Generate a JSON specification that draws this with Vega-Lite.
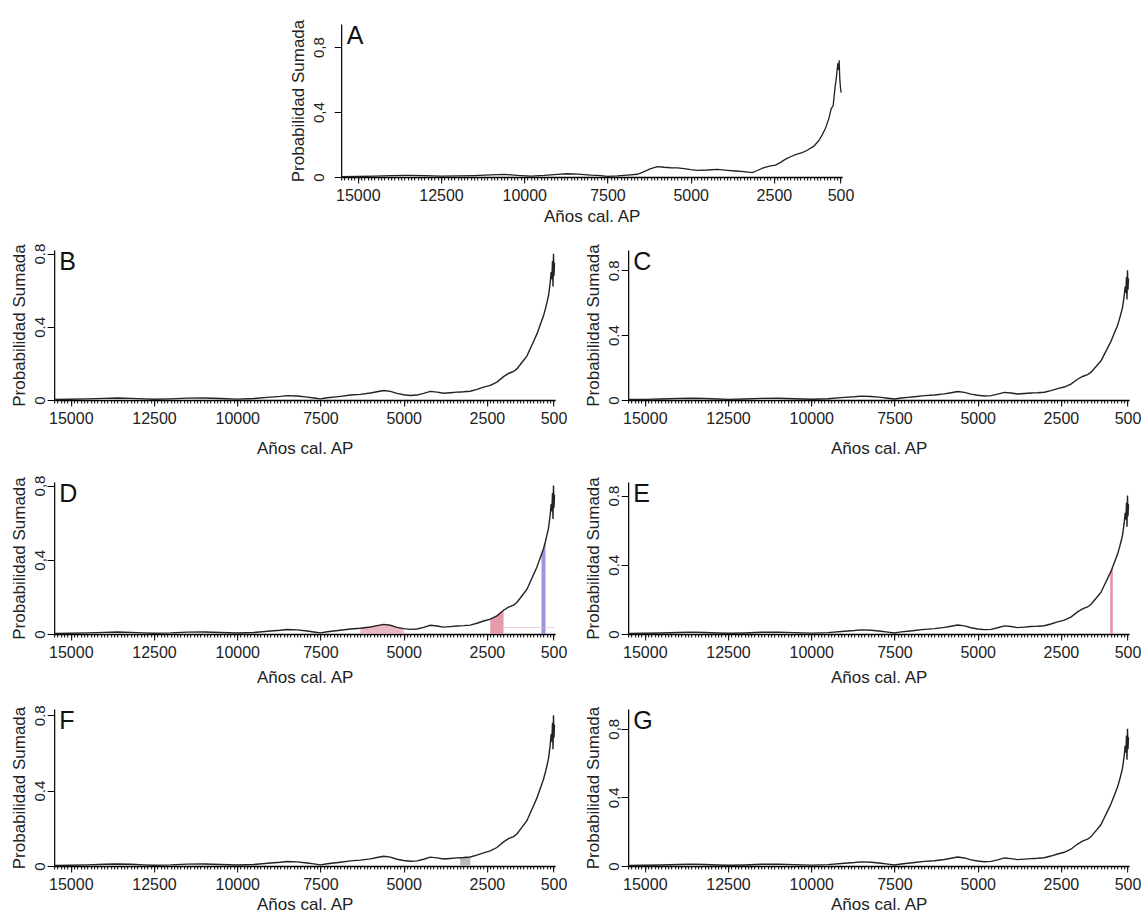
{
  "$schema": "https://vega.github.io/schema/vega-lite/v6.json",
  "background": "white",
  "padding": {"left": 10, "top": 19, "right": 0, "bottom": 0},
  "center": true,
  "spacing": 18,
  "datasets": {
    "base": [
      {"year": 15500, "p": 0.003}, {"year": 15000, "p": 0.004}, {"year": 14500, "p": 0.006}, {"year": 14000, "p": 0.009},
      {"year": 13600, "p": 0.011}, {"year": 13200, "p": 0.009}, {"year": 12800, "p": 0.006}, {"year": 12500, "p": 0.004},
      {"year": 12000, "p": 0.006}, {"year": 11500, "p": 0.01}, {"year": 11000, "p": 0.011}, {"year": 10500, "p": 0.008},
      {"year": 10000, "p": 0.005}, {"year": 9500, "p": 0.008}, {"year": 9000, "p": 0.016}, {"year": 8700, "p": 0.02},
      {"year": 8500, "p": 0.024}, {"year": 8200, "p": 0.022}, {"year": 7900, "p": 0.016}, {"year": 7700, "p": 0.011},
      {"year": 7500, "p": 0.006}, {"year": 7300, "p": 0.012}, {"year": 7100, "p": 0.016}, {"year": 6900, "p": 0.02},
      {"year": 6600, "p": 0.027}, {"year": 6300, "p": 0.031}, {"year": 6000, "p": 0.038}, {"year": 5800, "p": 0.045},
      {"year": 5600, "p": 0.052}, {"year": 5400, "p": 0.047}, {"year": 5200, "p": 0.036}, {"year": 5000, "p": 0.029},
      {"year": 4800, "p": 0.025}, {"year": 4600, "p": 0.027}, {"year": 4400, "p": 0.036}, {"year": 4200, "p": 0.047},
      {"year": 4000, "p": 0.043}, {"year": 3800, "p": 0.037}, {"year": 3600, "p": 0.04}, {"year": 3400, "p": 0.043},
      {"year": 3300, "p": 0.044}, {"year": 3200, "p": 0.045}, {"year": 3000, "p": 0.048}, {"year": 2800, "p": 0.058},
      {"year": 2600, "p": 0.07}, {"year": 2400, "p": 0.08}, {"year": 2200, "p": 0.098}, {"year": 2000, "p": 0.128},
      {"year": 1850, "p": 0.145}, {"year": 1700, "p": 0.156}, {"year": 1600, "p": 0.17}, {"year": 1450, "p": 0.205},
      {"year": 1300, "p": 0.24}, {"year": 1200, "p": 0.28}, {"year": 1100, "p": 0.32}, {"year": 1020, "p": 0.352},
      {"year": 1000, "p": 0.36}, {"year": 940, "p": 0.39},
      {"year": 900, "p": 0.41}, {"year": 860, "p": 0.43}, {"year": 800, "p": 0.46}, {"year": 740, "p": 0.5}, {"year": 700, "p": 0.53}, {"year": 650, "p": 0.57},
      {"year": 600, "p": 0.64}, {"year": 570, "p": 0.7}, {"year": 550, "p": 0.66}, {"year": 530, "p": 0.76},
      {"year": 515, "p": 0.62}, {"year": 500, "p": 0.8}, {"year": 485, "p": 0.68}, {"year": 470, "p": 0.75}
    ],
    "a": [
      {"year": 15500, "p": 0.002}, {"year": 15000, "p": 0.003}, {"year": 14500, "p": 0.005}, {"year": 14000, "p": 0.009},
      {"year": 13500, "p": 0.01}, {"year": 13000, "p": 0.009}, {"year": 12500, "p": 0.006}, {"year": 12000, "p": 0.007},
      {"year": 11500, "p": 0.009}, {"year": 11000, "p": 0.013}, {"year": 10600, "p": 0.016}, {"year": 10200, "p": 0.01},
      {"year": 9800, "p": 0.006}, {"year": 9400, "p": 0.01}, {"year": 9000, "p": 0.016}, {"year": 8700, "p": 0.02},
      {"year": 8400, "p": 0.018}, {"year": 8000, "p": 0.012}, {"year": 7700, "p": 0.009}, {"year": 7500, "p": 0.004},
      {"year": 7200, "p": 0.007}, {"year": 6900, "p": 0.012}, {"year": 6600, "p": 0.017}, {"year": 6400, "p": 0.033},
      {"year": 6200, "p": 0.051}, {"year": 6000, "p": 0.064}, {"year": 5800, "p": 0.06}, {"year": 5600, "p": 0.057},
      {"year": 5400, "p": 0.056}, {"year": 5200, "p": 0.051}, {"year": 5000, "p": 0.045}, {"year": 4800, "p": 0.041},
      {"year": 4500, "p": 0.043}, {"year": 4200, "p": 0.047}, {"year": 3900, "p": 0.041}, {"year": 3650, "p": 0.037},
      {"year": 3400, "p": 0.033}, {"year": 3150, "p": 0.027}, {"year": 3000, "p": 0.04}, {"year": 2800, "p": 0.058},
      {"year": 2600, "p": 0.068}, {"year": 2450, "p": 0.073}, {"year": 2300, "p": 0.09}, {"year": 2150, "p": 0.11},
      {"year": 2000, "p": 0.125}, {"year": 1830, "p": 0.14}, {"year": 1650, "p": 0.15}, {"year": 1500, "p": 0.165},
      {"year": 1300, "p": 0.19}, {"year": 1150, "p": 0.225}, {"year": 1050, "p": 0.26}, {"year": 950, "p": 0.3},
      {"year": 850, "p": 0.36}, {"year": 780, "p": 0.42}, {"year": 720, "p": 0.44}, {"year": 670, "p": 0.54},
      {"year": 620, "p": 0.62}, {"year": 580, "p": 0.7}, {"year": 560, "p": 0.66}, {"year": 540, "p": 0.72},
      {"year": 520, "p": 0.6}, {"year": 500, "p": 0.55}, {"year": 480, "p": 0.52}
    ],
    "hline": [{"from": 2000, "to": 470, "p": 0.035}]
  },
  "config": {
    "view": {"stroke": null},
    "font": "Liberation Sans",
    "axis": {"grid": false, "domainColor": "black", "tickColor": "black", "labelColor": "#222", "titleColor": "#222", "titleFontWeight": "normal", "labelFont": "Liberation Sans", "titleFont": "Liberation Sans"},
    "axisX": {"tickSize": 6, "labelPadding": 4.5, "domainWidth": 1.5, "labelFontSize": 16, "titleFontSize": 17, "labelFlush": false, "labelOverlap": false, "labelBound": false},
    "axisY": {"tickSize": 7, "labelAngle": 270, "labelAlign": "center", "labelBaseline": "alphabetic", "labelPadding": 3, "titlePadding": 4, "labelFontSize": 15, "titleFontSize": 17, "domainWidth": 1.2, "labelOverlap": false}
  },
  "vconcat": [
    {
      "width": 501, "height": 153,
      "layer": [
        {"data": {"name": "a"}, "mark": {"type": "line", "color": "#222", "strokeWidth": 1.3},
         "encoding": {
           "x": {"field": "year", "type": "quantitative", "scale": {"domain": [15500, 450], "nice": false, "zero": false},
                 "axis": {"orient": "bottom", "values": [15000, 12500, 10000, 7500, 5000, 2500, 500], "format": "d", "title": "Años cal. AP", "titlePadding": 5}},
           "y": {"field": "p", "type": "quantitative", "scale": {"domain": [0, 0.943], "nice": false},
                 "axis": {"values": [0, 0.4, 0.8], "labelExpr": "replace(format(datum.value, '.1~f'), '.', ',')", "labelPadding": 11, "titlePadding": 3.4, "title": "Probabilidad Sumada"}}}},
        {"data": {"values": [{"t": "A"}]}, "mark": {"type": "text", "fontSize": 25, "align": "left", "baseline": "top", "color": "#111"},
         "encoding": {"text": {"field": "t"},
           "x": {"datum": 15330, "type": "quantitative", "axis": {"orient": "bottom", "tickCount": 150, "tickSize": 3, "labels": false, "domain": false, "title": null}},
           "y": {"datum": 0.943, "type": "quantitative"}}}
      ],
      "resolve": {"axis": {"x": "independent"}}
    },
    {
      "hconcat": [
        {
          "width": 501, "height": 150,
          "layer": [
            {"data": {"name": "base"}, "mark": {"type": "line", "color": "#222", "strokeWidth": 1.4},
             "encoding": {
               "x": {"field": "year", "type": "quantitative", "scale": {"domain": [15500, 450], "nice": false, "zero": false},
                     "axis": {"orient": "bottom", "values": [15000, 12500, 10000, 7500, 5000, 2500, 500], "format": "d", "title": "Años cal. AP", "titlePadding": 13.7}},
               "y": {"field": "p", "type": "quantitative", "scale": {"domain": [0, 0.82], "nice": false},
                     "axis": {"values": [0, 0.4, 0.8], "labelExpr": "format(datum.value, '.1~f')", "title": "Probabilidad Sumada"}}}},
            {"data": {"values": [{"t": "B"}]}, "mark": {"type": "text", "fontSize": 25, "align": "left", "baseline": "top", "color": "#111"},
             "encoding": {"text": {"field": "t"},
               "x": {"datum": 15350, "type": "quantitative", "axis": {"orient": "bottom", "tickCount": 150, "tickSize": 3, "labels": false, "domain": false, "title": null}},
               "y": {"datum": 0.82, "type": "quantitative"}}}
          ],
          "resolve": {"axis": {"x": "independent"}}
        },
        {
          "width": 501, "height": 150,
          "layer": [
            {"data": {"name": "base"}, "mark": {"type": "line", "color": "#222", "strokeWidth": 1.4},
             "encoding": {
               "x": {"field": "year", "type": "quantitative", "scale": {"domain": [15500, 450], "nice": false, "zero": false},
                     "axis": {"orient": "bottom", "values": [15000, 12500, 10000, 7500, 5000, 2500, 500], "format": "d", "title": "Años cal. AP", "titlePadding": 13.7}},
               "y": {"field": "p", "type": "quantitative", "scale": {"domain": [0, 0.925], "nice": false},
                     "axis": {"values": [0, 0.4, 0.8], "labelExpr": "format(datum.value, '.1~f')", "title": "Probabilidad Sumada"}}}},
            {"data": {"values": [{"t": "C"}]}, "mark": {"type": "text", "fontSize": 25, "align": "left", "baseline": "top", "color": "#111"},
             "encoding": {"text": {"field": "t"},
               "x": {"datum": 15350, "type": "quantitative", "axis": {"orient": "bottom", "tickCount": 150, "tickSize": 3, "labels": false, "domain": false, "title": null}},
               "y": {"datum": 0.925, "type": "quantitative"}}}
          ],
          "resolve": {"axis": {"x": "independent"}}
        }
      ],
      "bounds": "flush",
      "spacing": 73
    },
    {
      "hconcat": [
        {
          "width": 501, "height": 152,
          "layer": [
            {"data": {"name": "base"}, "transform": [{"filter": "datum.year >= 5000 && datum.year <= 6300"}],
             "mark": {"type": "area", "color": "#e3a0b0", "opacity": 0.75},
             "encoding": {"x": {"field": "year", "type": "quantitative", "axis": null}, "y": {"field": "p", "type": "quantitative"}}},
            {"data": {"name": "base"}, "transform": [{"filter": "datum.year >= 2000 && datum.year <= 2400"}],
             "mark": {"type": "area", "color": "#e0899e", "opacity": 0.85},
             "encoding": {"x": {"field": "year", "type": "quantitative", "axis": null}, "y": {"field": "p", "type": "quantitative"}}},
            {"data": {"name": "base"}, "transform": [{"filter": "datum.year >= 740 && datum.year <= 860"}],
             "mark": {"type": "area", "color": "#8b8fd6", "opacity": 0.9},
             "encoding": {"x": {"field": "year", "type": "quantitative", "axis": null}, "y": {"field": "p", "type": "quantitative"}}},
            {"data": {"name": "hline"}, "mark": {"type": "rule", "color": "#e8b4c0", "strokeWidth": 1, "opacity": 0.6},
             "encoding": {"x": {"field": "from", "type": "quantitative", "axis": null}, "x2": {"field": "to"}, "y": {"field": "p", "type": "quantitative"}}},
            {"data": {"name": "base"}, "mark": {"type": "line", "color": "#222", "strokeWidth": 1.4},
             "encoding": {
               "x": {"field": "year", "type": "quantitative", "scale": {"domain": [15500, 450], "nice": false, "zero": false},
                     "axis": {"orient": "bottom", "values": [15000, 12500, 10000, 7500, 5000, 2500, 500], "format": "d", "title": "Años cal. AP", "titlePadding": 8.7}},
               "y": {"field": "p", "type": "quantitative", "scale": {"domain": [0, 0.819], "nice": false},
                     "axis": {"values": [0, 0.4, 0.8], "labelExpr": "replace(format(datum.value, '.1~f'), '.', ',')", "title": "Probabilidad Sumada"}}}},
            {"data": {"values": [{"t": "D"}]}, "mark": {"type": "text", "fontSize": 25, "align": "left", "baseline": "top", "color": "#111"},
             "encoding": {"text": {"field": "t"},
               "x": {"datum": 15350, "type": "quantitative", "axis": {"orient": "bottom", "tickCount": 150, "tickSize": 3, "labels": false, "domain": false, "title": null}},
               "y": {"datum": 0.819, "type": "quantitative"}}}
          ],
          "resolve": {"axis": {"x": "independent"}}
        },
        {
          "width": 501, "height": 152,
          "layer": [
            {"data": {"name": "base"}, "transform": [{"filter": "datum.year >= 940 && datum.year <= 1020"}],
             "mark": {"type": "area", "color": "#e08aa0", "opacity": 0.9},
             "encoding": {"x": {"field": "year", "type": "quantitative", "axis": null}, "y": {"field": "p", "type": "quantitative"}}},
            {"data": {"name": "base"}, "mark": {"type": "line", "color": "#222", "strokeWidth": 1.4},
             "encoding": {
               "x": {"field": "year", "type": "quantitative", "scale": {"domain": [15500, 450], "nice": false, "zero": false},
                     "axis": {"orient": "bottom", "values": [15000, 12500, 10000, 7500, 5000, 2500, 500], "format": "d", "title": "Años cal. AP", "titlePadding": 8.7}},
               "y": {"field": "p", "type": "quantitative", "scale": {"domain": [0, 0.878], "nice": false},
                     "axis": {"values": [0, 0.4, 0.8], "labelExpr": "format(datum.value, '.1~f')", "title": "Probabilidad Sumada"}}}},
            {"data": {"values": [{"t": "E"}]}, "mark": {"type": "text", "fontSize": 25, "align": "left", "baseline": "top", "color": "#111"},
             "encoding": {"text": {"field": "t"},
               "x": {"datum": 15350, "type": "quantitative", "axis": {"orient": "bottom", "tickCount": 150, "tickSize": 3, "labels": false, "domain": false, "title": null}},
               "y": {"datum": 0.878, "type": "quantitative"}}}
          ],
          "resolve": {"axis": {"x": "independent"}}
        }
      ],
      "bounds": "flush",
      "spacing": 73
    },
    {
      "hconcat": [
        {
          "width": 501, "height": 157,
          "layer": [
            {"data": {"name": "base"}, "transform": [{"filter": "datum.year >= 3000 && datum.year <= 3300"}],
             "mark": {"type": "area", "color": "#a8a8a8", "opacity": 0.8},
             "encoding": {"x": {"field": "year", "type": "quantitative", "axis": null}, "y": {"field": "p", "type": "quantitative"}}},
            {"data": {"name": "base"}, "mark": {"type": "line", "color": "#222", "strokeWidth": 1.4},
             "encoding": {
               "x": {"field": "year", "type": "quantitative", "scale": {"domain": [15500, 450], "nice": false, "zero": false},
                     "axis": {"orient": "bottom", "values": [15000, 12500, 10000, 7500, 5000, 2500, 500], "format": "d", "title": "Años cal. AP", "titlePadding": 3.5}},
               "y": {"field": "p", "type": "quantitative", "scale": {"domain": [0, 0.833], "nice": false},
                     "axis": {"values": [0, 0.4, 0.8], "labelExpr": "format(datum.value, '.1~f')", "title": "Probabilidad Sumada"}}}},
            {"data": {"values": [{"t": "F"}]}, "mark": {"type": "text", "fontSize": 25, "align": "left", "baseline": "top", "color": "#111"},
             "encoding": {"text": {"field": "t"},
               "x": {"datum": 15350, "type": "quantitative", "axis": {"orient": "bottom", "tickCount": 150, "tickSize": 3, "labels": false, "domain": false, "title": null}},
               "y": {"datum": 0.833, "type": "quantitative"}}}
          ],
          "resolve": {"axis": {"x": "independent"}}
        },
        {
          "width": 501, "height": 157,
          "layer": [
            {"data": {"name": "base"}, "mark": {"type": "line", "color": "#222", "strokeWidth": 1.4},
             "encoding": {
               "x": {"field": "year", "type": "quantitative", "scale": {"domain": [15500, 450], "nice": false, "zero": false},
                     "axis": {"orient": "bottom", "values": [15000, 12500, 10000, 7500, 5000, 2500, 500], "format": "d", "title": "Años cal. AP", "titlePadding": 3.5}},
               "y": {"field": "p", "type": "quantitative", "scale": {"domain": [0, 0.915], "nice": false},
                     "axis": {"values": [0, 0.4, 0.8], "labelExpr": "replace(format(datum.value, '.1~f'), '.', ',')", "title": "Probabilidad Sumada"}}}},
            {"data": {"values": [{"t": "G"}]}, "mark": {"type": "text", "fontSize": 25, "align": "left", "baseline": "top", "color": "#111"},
             "encoding": {"text": {"field": "t"},
               "x": {"datum": 15350, "type": "quantitative", "axis": {"orient": "bottom", "tickCount": 150, "tickSize": 3, "labels": false, "domain": false, "title": null}},
               "y": {"datum": 0.915, "type": "quantitative"}}}
          ],
          "resolve": {"axis": {"x": "independent"}}
        }
      ],
      "bounds": "flush",
      "spacing": 73
    }
  ]
}
